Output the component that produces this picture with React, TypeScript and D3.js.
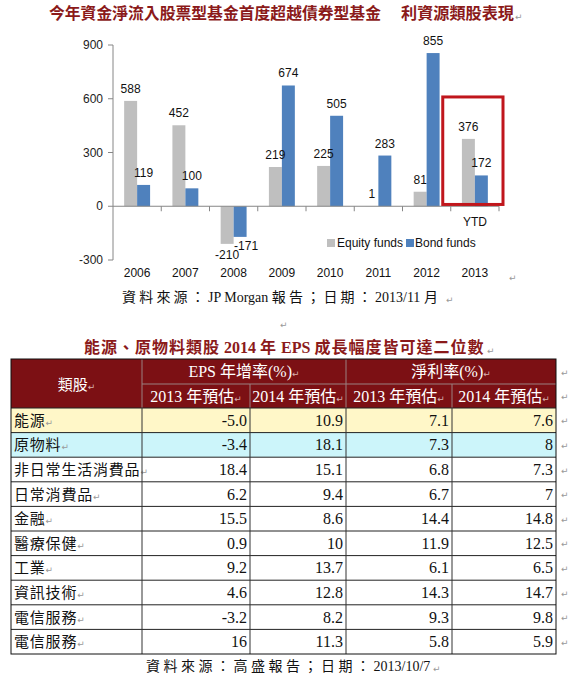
import React from 'react';
import * as d3 from 'd3';

const years = ['2006', '2007', '2008', '2009', '2010', '2011', '2012', '2013'];
const equityFunds = [588, 452, -210, 219, 225, 1, 81, 376];
const bondFunds = [119, 100, -171, 674, 505, 283, 855, 172];
const yTicks = [-300, 0, 300, 600, 900];
const seriesNames = ['Equity funds', 'Bond funds'];

const sectors = ['能源', '原物料', '非日常生活消費品', '日常消費品', '金融', '醫療保健', '工業', '資訊技術', '電信服務', '電信服務'];
const eps2013 = ['-5.0', '-3.4', '18.4', '6.2', '15.5', '0.9', '9.2', '4.6', '-3.2', '16'];
const eps2014 = ['10.9', '18.1', '15.1', '9.4', '8.6', '10', '13.7', '12.8', '8.2', '11.3'];
const margin2013 = ['7.1', '7.3', '6.8', '6.7', '14.4', '11.9', '6.1', '14.3', '9.3', '5.8'];
const margin2014 = ['7.6', '8', '7.3', '7', '14.8', '12.5', '6.5', '14.7', '9.8', '5.9'];

const RET = '\u21B5';
const SANS = '"Liberation Sans", Arial, sans-serif';
const SERIF = '"Liberation Serif", "Times New Roman", "Noto Sans CJK TC", serif';
const CJK = '"Noto Sans CJK TC", "Liberation Serif", serif';
const MAROON = '#7C1014';
const TITLE = '#8B1A1A';
const GRAY = '#BFBFBF';
const BLUE = '#4F81BD';
const HDRLINE = '#9A8080';

// split text into CJK / non-CJK runs so CJK runs can be letter-spaced
function runs(s: string) {
  const out: { t: string; cjk: boolean }[] = [];
  for (const ch of s) {
    const cjk = /[\u3000-\u9fff\uff00-\uffef]/.test(ch);
    const last = out[out.length - 1];
    if (last && last.cjk === cjk) last.t += ch;
    else out.push({ t: ch, cjk });
  }
  return out;
}

function Spaced({ s, ls, x, y, size, weight, fill }: { s: string; ls: number; x: number; y: number; size: number; weight?: string; fill: string }) {
  return (
    <text x={x} y={y} fontFamily={SERIF} fontSize={size} fontWeight={weight} fill={fill}>
      {runs(s).map((r, i) => (
        <tspan key={i} letterSpacing={r.cjk ? ls : 0}>{r.t}</tspan>
      ))}
    </text>
  );
}

export default function App() {
  const W = 575, H = 680;
  const x = d3.scaleBand<string>().domain(years).range([113, 499]);
  const xs = d3.scaleBand<string>().domain(['eq', 'bond']).range([0, x.bandwidth()]).paddingOuter(0.86);
  const y = d3.scaleLinear().domain([-300, 900]).range([260, 45]);
  const y0 = y(0);

  const bars: { key: string; yr: string; v: number; s: string }[] = [];
  years.forEach((yr, i) => {
    bars.push({ key: 'e' + i, yr, v: equityFunds[i], s: 'eq' });
    bars.push({ key: 'b' + i, yr, v: bondFunds[i], s: 'bond' });
  });

  // table layout
  const colEdges = [11, 142, 250, 346, 452, 556];
  const tTop = 359, h1 = 384, h2 = 408, tBottom = 654;
  const rowScale = d3.scaleBand<number>().domain(sectors.map((_, i) => i)).range([h2, tBottom]);
  const rowFill = (i: number) => (i === 0 ? '#FFF7C8' : i === 1 ? '#CCF5FA' : '#FFFFFF');
  const cols = [eps2013, eps2014, margin2013, margin2014];

  const boxL = (x('2013') as number) - 8;
  const boxR = (x('2013') as number) + x.bandwidth() + 4;

  return (
    <svg width={W} height={H} style={{ position: 'absolute', left: 0, top: 0, background: '#fff' }}>
      <rect x={0} y={0} width={W} height={H} fill="#fff" />
      {/* Title */}
      <text x={49} y={19} fontFamily={CJK} fontWeight="bold" fontSize={16} fill={TITLE} textLength={332} lengthAdjust="spacingAndGlyphs">今年資金淨流入股票型基金首度超越債券型基金</text>
      <text x={401} y={19} fontFamily={CJK} fontWeight="bold" fontSize={16} fill={TITLE} textLength={113} lengthAdjust="spacingAndGlyphs">利資源類股表現</text>
      <text x={515} y={20} fontFamily="DejaVu Sans" fontSize={9} fill="#999">{RET}</text>

      {/* y axis */}
      <line x1={113} x2={113} y1={y(900)} y2={y(-300)} stroke="#868686" />
      {yTicks.map(t => (
        <g key={t}>
          <line x1={108} x2={113} y1={y(t)} y2={y(t)} stroke="#868686" />
          <text x={103} y={y(t) + 4} textAnchor="end" fontFamily={SANS} fontSize={12} fill="#222">{t}</text>
        </g>
      ))}

      {/* bars */}
      {bars.map(b => {
        const bx = (x(b.yr) as number) + (xs(b.s) as number);
        const top = Math.min(y(b.v), y0);
        const hgt = Math.abs(y(b.v) - y0);
        return <rect key={b.key} x={bx} y={top} width={xs.bandwidth()} height={hgt} fill={b.s === 'eq' ? GRAY : BLUE} />;
      })}

      {/* x axis */}
      <line x1={113} x2={499} y1={y0} y2={y0} stroke="#868686" />
      {years.map(yr => (
        <line key={yr} x1={(x(yr) as number) + x.bandwidth()} x2={(x(yr) as number) + x.bandwidth()} y1={y0} y2={y0 + 5} stroke="#868686" />
      ))}

      {/* value labels */}
      {bars.map(b => {
        const cx = (x(b.yr) as number) + (xs(b.s) as number) + xs.bandwidth() / 2;
        let ly = y(b.v) - 8;
        let dx = 0;
        if (b.v < 0) {
          ly = b.s === 'bond' ? y(b.v) + 13 : y(b.v) + 15;
          dx = b.s === 'bond' ? 6 : 0;
        }
        return (
          <text key={'l' + b.key} x={cx + dx} y={ly} textAnchor="middle" fontFamily={SANS} fontSize={12} fill="#111">{b.v}</text>
        );
      })}

      {/* red box around 2013 */}
      <rect x={boxL} y={y(610)} width={boxR - boxL} height={y(10) - y(610)} fill="none" stroke="#C0161C" strokeWidth={3} />

      {/* YTD */}
      <text x={(x('2013') as number) + x.bandwidth() / 2} y={226} textAnchor="middle" fontFamily={SANS} fontSize={12} fill="#111">YTD</text>

      {/* legend */}
      <rect x={327} y={239} width={8} height={8} fill={GRAY} />
      <text x={337} y={247} fontFamily={SANS} fontSize={12} fill="#111">{seriesNames[0]}</text>
      <rect x={406} y={239} width={8} height={8} fill={BLUE} />
      <text x={415} y={247} fontFamily={SANS} fontSize={12} fill="#111">{seriesNames[1]}</text>

      {/* category labels */}
      {years.map(yr => (
        <text key={'c' + yr} x={(x(yr) as number) + x.bandwidth() / 2} y={277} textAnchor="middle" fontFamily={SANS} fontSize={12} fill="#111">{yr}</text>
      ))}
      <text x={509} y={281} fontFamily="DejaVu Sans" fontSize={9} fill="#999">{RET}</text>

      {/* source 1 */}
      <Spaced s="資料來源：JP Morgan 報告；日期：2013/11 月" ls={3.2} x={122} y={302} size={14} fill="#111" />
      <text x={446} y={303} fontFamily="DejaVu Sans" fontSize={9} fill="#999">{RET}</text>
      <text x={280} y={328} fontFamily="DejaVu Sans" fontSize={9} fill="#999">{RET}</text>

      {/* title 2 */}
      <Spaced s="能源、原物料類股 2014 年 EPS 成長幅度皆可達二位數" ls={1} x={84} y={353} size={16} weight="bold" fill={TITLE} />
      <text x={487} y={354} fontFamily="DejaVu Sans" fontSize={9} fill="#999">{RET}</text>

      {/* table header */}
      <rect x={colEdges[0]} y={tTop} width={colEdges[5] - colEdges[0]} height={h2 - tTop} fill={MAROON} />
      <line x1={colEdges[1]} x2={colEdges[5]} y1={h1} y2={h1} stroke={HDRLINE} />
      {[1, 3].map(c => <line key={'hv1' + c} x1={colEdges[c]} x2={colEdges[c]} y1={tTop} y2={h2} stroke={HDRLINE} />)}
      {[2, 4].map(c => <line key={'hv2' + c} x1={colEdges[c]} x2={colEdges[c]} y1={h1} y2={h2} stroke={HDRLINE} />)}
      <text x={(colEdges[0] + colEdges[1]) / 2} y={(tTop + h2) / 2 + 6} textAnchor="middle" fontFamily={CJK} fontSize={15} fill="#fff">類股<tspan fontFamily="DejaVu Sans" fontSize={9} fill="#d8b0b0">{RET}</tspan></text>
      <text x={(colEdges[1] + colEdges[3]) / 2} y={(tTop + h1) / 2 + 5.5} textAnchor="middle" fontFamily={SERIF} fontSize={16} fill="#fff">EPS 年增率(%)<tspan fontFamily="DejaVu Sans" fontSize={9} fill="#d8b0b0">{RET}</tspan></text>
      <text x={(colEdges[3] + colEdges[5]) / 2} y={(tTop + h1) / 2 + 5.5} textAnchor="middle" fontFamily={SERIF} fontSize={16} fill="#fff">淨利率(%)<tspan fontFamily="DejaVu Sans" fontSize={9} fill="#d8b0b0">{RET}</tspan></text>
      {['2013 年預估', '2014 年預估', '2013 年預估', '2014 年預估'].map((t, i) => (
        <text key={'sh' + i} x={(colEdges[i + 1] + colEdges[i + 2]) / 2} y={(h1 + h2) / 2 + 5.5} textAnchor="middle" fontFamily={SERIF} fontSize={16} fill="#fff">{t}<tspan fontFamily="DejaVu Sans" fontSize={9} fill="#d8b0b0">{RET}</tspan></text>
      ))}
      <text x={561} y={(tTop + h1) / 2 + 4} fontFamily="DejaVu Sans" fontSize={9} fill="#999">{RET}</text>
      <text x={561} y={(h1 + h2) / 2 + 4} fontFamily="DejaVu Sans" fontSize={9} fill="#999">{RET}</text>

      {/* table body */}
      {sectors.map((s, i) => {
        const ry = rowScale(i) as number;
        const rh = rowScale.bandwidth();
        return (
          <g key={'r' + i}>
            <rect x={colEdges[0]} y={ry} width={colEdges[5] - colEdges[0]} height={rh} fill={rowFill(i)} />
            <text x={14} y={ry + rh / 2 + 5.5} fontFamily={CJK} fontSize={15} fill="#111" letterSpacing={0.8}>{s}<tspan fontFamily="DejaVu Sans" fontSize={9} fill="#999" letterSpacing={0}>{RET}</tspan></text>
            {cols.map((col, c) => (
              <text key={'v' + c} x={colEdges[c + 2] - 3} y={ry + rh / 2 + 5.5} textAnchor="end" fontFamily={SERIF} fontSize={16} fill="#111">{col[i]}</text>
            ))}
            <text x={561} y={ry + rh / 2 + 4} fontFamily="DejaVu Sans" fontSize={9} fill="#999">{RET}</text>
          </g>
        );
      })}
      {sectors.map((_, i) => (
        <line key={'hl' + i} x1={colEdges[0]} x2={colEdges[5]} y1={rowScale(i) as number} y2={rowScale(i) as number} stroke="#222" />
      ))}
      {colEdges.slice(1, 5).map((cx, i) => (
        <line key={'vl' + i} x1={cx} x2={cx} y1={h2} y2={tBottom} stroke="#333" />
      ))}
      <rect x={colEdges[0]} y={tTop} width={colEdges[5] - colEdges[0]} height={tBottom - tTop} fill="none" stroke="#111" />

      {/* source 2 */}
      <Spaced s="資料來源：高盛報告；日期：2013/10/7" ls={3.5} x={146} y={671} size={14} fill="#111" />
      <text x={433} y={672} fontFamily="DejaVu Sans" fontSize={9} fill="#999">{RET}</text>
    </svg>
  );
}
